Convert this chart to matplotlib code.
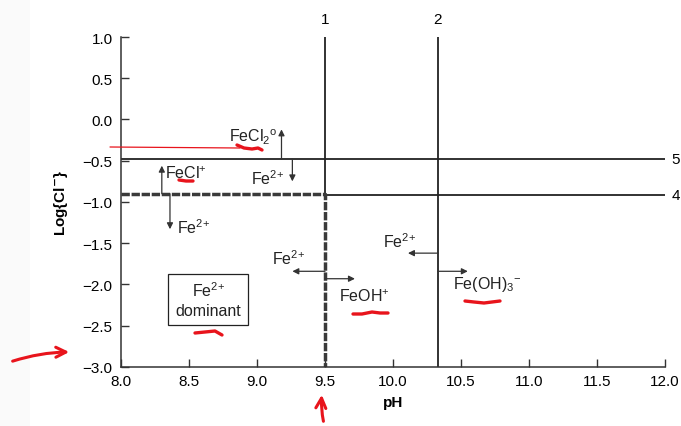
import numpy as np
import matplotlib.pyplot as plt
from matplotlib.lines import Line2D
from matplotlib.patches import FancyArrowPatch

plt.rcParams['font.family'] = ['Liberation Sans', 'DejaVu Sans']
plt.rcParams['mathtext.fontset'] = 'custom'
plt.rcParams['mathtext.rm'] = 'Liberation Sans'
plt.rcParams['mathtext.default'] = 'regular'

# boundary lines of the Fe(II) speciation diagram
ph_1 = 9.5          # FeOH+ / Fe2+
ph_2 = 10.33        # Fe(OH)3- / Fe2+
logcl_5 = -0.48     # FeCl2o / Fe2+
logcl_4 = -0.92     # FeCl+ / Fe2+
logcl_dash = -0.90  # chosen limit of Fe2+ dominance

x_ticks = [8.0, 8.5, 9.0, 9.5, 10.0, 10.5, 11.0, 11.5, 12.0]
y_ticks = [-3.0, -2.5, -2.0, -1.5, -1.0, -0.5, 0.0, 0.5, 1.0]

FE2 = 'Fe$^{2{+}}$'

# arrows: (x0, y0, x1, y1), labels: (text, x, y)
arrows = [
    (9.18, logcl_5, 9.18, -0.12),
    (9.26, logcl_5, 9.26, -0.75),
    (8.30, logcl_dash, 8.30, -0.56),
    (8.36, logcl_dash, 8.36, -1.33),
    (ph_1, -1.84, 9.26, -1.84),
    (ph_1, -1.93, 9.72, -1.93),
    (ph_2, -1.62, 10.11, -1.62),
    (ph_2, -1.84, 10.55, -1.84),
]
labels = [
    ('FeCl$_2$$^{o}$', 8.97, -0.21),
    (FE2, 9.08, -0.71),
    ('FeCl$^{+}$', 8.48, -0.64),
    (FE2, 8.53, -1.30),
    (FE2, 9.23, -1.68),
    ('FeOH$^{+}$', 9.79, -2.14),
    (FE2, 10.05, -1.47),
    ('Fe(OH)$_3$$^{-}$', 10.69, -1.99),
]

fig = plt.figure(figsize=(6.81, 4.27), dpi=100)
ax = fig.add_axes([0.1777, 0.1382, 0.7988, 0.7728])
ax.set_xlim(8.0, 12.0)
ax.set_ylim(-3.0, 1.0)

ink = '#222222'
ax.vlines(ph_1, logcl_dash, 1.0, color=ink, lw=1.3)
ax.vlines(ph_2, -3.0, 1.0, color=ink, lw=1.3)
ax.hlines(logcl_5, 8.0, 12.0, color=ink, lw=1.3)
ax.hlines(logcl_4, ph_1, 12.0, color=ink, lw=1.3)
ax.plot([8.0, ph_1, ph_1], [logcl_dash, logcl_dash, -3.0], color='#3a3a3a',
        lw=2.5, dashes=(2.4, 0.5), solid_capstyle='butt')

for x0, y0, x1, y1 in arrows:
    ax.annotate('', xy=(x1, y1), xytext=(x0, y0),
                arrowprops=dict(arrowstyle='-|>', color='#333333', lw=0.9,
                                mutation_scale=9, shrinkA=0, shrinkB=0))
for txt, x, y in labels:
    ax.text(x, y, txt, ha='center', va='center', fontsize=11.5, color=ink)

ax.text(8.64, -2.18, FE2 + '\ndominant', ha='center', va='center',
        fontsize=11.5, color=ink, linespacing=1.3,
        bbox=dict(boxstyle='square,pad=0.45', fc='white', ec=ink, lw=0.9))

# line numbers
ax.text(ph_1, 1.13, '1', ha='center', va='bottom', fontsize=11, clip_on=False)
ax.text(ph_2, 1.13, '2', ha='center', va='bottom', fontsize=11, clip_on=False)
ax.text(12.05, logcl_5, '5', ha='left', va='center', fontsize=11, clip_on=False)
ax.text(12.05, logcl_4, '4', ha='left', va='center', fontsize=11, clip_on=False)

for side in ['top', 'right']:
    ax.spines[side].set_visible(False)
for side in ['left', 'bottom']:
    ax.spines[side].set_color('#333333')
    ax.spines[side].set_linewidth(1.1)
ax.set_xticks(x_ticks)
ax.set_yticks(y_ticks)
ax.set_xticklabels(['%.1f' % t for t in x_ticks])
ax.set_yticklabels([('%.1f' % t).replace('-', '\u2212') for t in y_ticks])
ax.tick_params(direction='in', length=6, width=1, color='#333333', labelsize=11)
ax.tick_params(axis='x', pad=5)
ax.tick_params(axis='y', pad=6)
ax.set_xlabel('pH', fontweight='bold', fontsize=11, labelpad=5)
ax.set_ylabel(r'Log{Cl$^{\mathbf{-}}$}', fontweight='bold', fontsize=11, labelpad=9)

# faint strip at the left edge
fig.patches.append(plt.Rectangle((0, 0), 30 / 681, 1, transform=fig.transFigure,
                                 fc='#fafafa', ec='none', zorder=-1))

# red pen marks (figure pixel coordinates)
def px(x, y):
    return x / 681, 1 - y / 427

red = '#e8141c'
pen_lines = [
    ([110, 240], [148, 149], 0.9),
    ([237, 244, 252, 258, 262], [146, 149, 150, 149, 151], 2.4),
    ([179, 186, 193], [181, 182, 182], 2.4),
    ([195, 205, 215, 222], [334, 333, 332, 336], 2.4),
    ([353, 362, 372, 380, 388], [315, 315, 313, 314, 314], 2.4),
    ([465, 474, 484, 492, 500], [302, 303, 304, 303, 302], 2.4),
]
for xs, ys, w in pen_lines:
    pts = [px(a, b) for a, b in zip(xs, ys)]
    fig.add_artist(Line2D([p[0] for p in pts], [p[1] for p in pts],
                          transform=fig.transFigure, color=red, lw=w,
                          solid_capstyle='round'))
for start, end in [((10, 363), (72, 353)), ((324, 425), (322, 393))]:
    fig.add_artist(FancyArrowPatch(px(*start), px(*end), transform=fig.transFigure,
                                   arrowstyle='->', mutation_scale=18,
                                   color=red, lw=2.2,
                                   connectionstyle='arc3,rad=-0.08'))

fig.savefig('out.png', dpi=100)
